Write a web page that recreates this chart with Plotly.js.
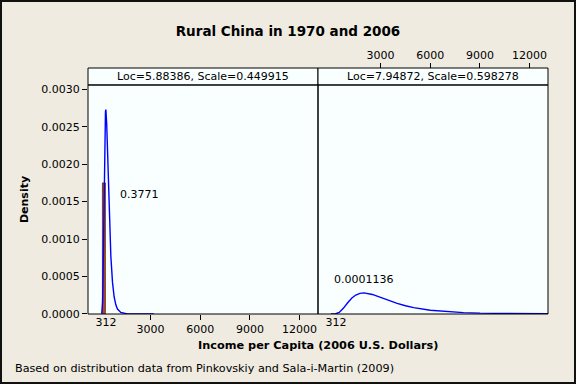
<!DOCTYPE html>
<html>
<head>
<meta charset="utf-8">
<script src="https://cdn.plot.ly/plotly-3.0.1.min.js"></script>
<style>html,body{margin:0;padding:0;background:#efebe1;}#chart{width:576px;height:384px;}</style>
</head>
<body>
<div id="chart"></div>
<script>
// ---- data ----
const panelLabels = ["Loc=5.88386, Scale=0.449915", "Loc=7.94872, Scale=0.598278"];
// 1970 lognormal density (left panel)
const x1970 = [50, 100, 125, 150, 175, 200, 225, 250, 275, 300, 325, 350, 375, 400, 450, 500, 600, 700, 800, 900, 1000, 1200, 1400, 1600, 2000, 2500, 3200];
const d1970 = [0.0000012, 0.000156, 0.000452, 0.000899, 0.001413, 0.001901, 0.002295, 0.002564, 0.002703, 0.002728, 0.002662, 0.002529, 0.002354, 0.002154, 0.001738, 0.001354, 0.000771, 0.000422, 0.000227, 0.0001226, 0.0000665, 0.0000203, 0.0000066, 0.0000022, 0.0000003, 0, 0];
// 2006 lognormal density (right panel)
const x2006 = [0, 250, 500, 750, 1000, 1250, 1500, 1750, 2000, 2250, 2500, 3000, 3500, 4000, 4500, 5000, 6000, 7000, 8000, 9000, 10000, 11000, 12000, 13000, 13500];
const d2006 = [0, 0.0000007, 0.00002, 0.0000755, 0.0001468, 0.0002096, 0.0002529, 0.0002757, 0.0002816, 0.0002753, 0.000261, 0.0002212, 0.0001789, 0.0001411, 0.0001098, 0.0000849, 0.0000506, 0.0000303, 0.0000185, 0.0000114, 0.0000072, 0.0000046, 0.000003, 0.000002, 0.0000016];
// shaded area below the 312 poverty line (1970)
const shadeX = [90, 90, 270, 270];
const shadeY = [0, 0.00175, 0.00175, 0];
const shareBelow = ["0.3771", "0.0001136"];
const povertyLine = [312];
const xTicks = [3000, 6000, 9000, 12000];
const yTicks = [0, 0.0005, 0.001, 0.0015, 0.002, 0.0025, 0.003];

const FONT = "DejaVu Sans";
const xr = [-780, 13110];
const yTop = 0.9309;
const PANEL_BG = '#f9ffff';

const traces = [
  {x: shadeX, y: shadeY, xaxis: 'x', yaxis: 'y', type: 'scatter', mode: 'lines', fill: 'toself',
   fillcolor: '#b5461c', line: {width: 0.8, color: '#5a2a10'}, hoverinfo: 'skip', showlegend: false},
  {x: x1970, y: d1970, xaxis: 'x', yaxis: 'y', type: 'scatter', mode: 'lines',
   line: {color: '#0000ff', width: 1.4}, showlegend: false},
  {x: x2006, y: d2006, xaxis: 'x2', yaxis: 'y', type: 'scatter', mode: 'lines',
   line: {color: '#0000ff', width: 1.4}, showlegend: false},
  {x: [], y: [], xaxis: 'x3', yaxis: 'y', type: 'scatter', showlegend: false},
  {x: [], y: [], xaxis: 'x4', yaxis: 'y', type: 'scatter', showlegend: false}
];

const tickFont = {family: FONT, size: 11, color: '#000'};
const baseX = {range: xr, showgrid: false, zeroline: false, fixedrange: true, tickfont: tickFont};

const layout = {
  width: 576, height: 384,
  paper_bgcolor: '#efebe1', plot_bgcolor: PANEL_BG,
  margin: {l: 88, r: 28, t: 68, b: 70},
  showlegend: false,
  title: {text: '<b>Rural China in 1970 and 2006</b>', font: {family: FONT, size: 13.5, color: '#000'},
          x: 0.5, xref: 'container', y: 1 - 31/384, yref: 'container', yanchor: 'middle'},
  xaxis: Object.assign({}, baseX, {domain: [0, 0.5], anchor: 'y', tickvals: xTicks, ticktext: xTicks.map(String),
          ticks: 'outside', ticklen: 5, tickcolor: '#000', showline: false}),
  xaxis3: Object.assign({}, baseX, {overlaying: 'x', anchor: 'y', side: 'bottom', tickvals: povertyLine,
          ticktext: povertyLine.map(String), ticks: '', showline: false}),
  xaxis2: Object.assign({}, baseX, {domain: [0.5, 1], anchor: 'free', position: 1, side: 'top', tickvals: xTicks,
          ticktext: xTicks.map(String), ticks: 'outside', ticklen: 5, tickcolor: '#000', showline: false}),
  xaxis4: Object.assign({}, baseX, {overlaying: 'x2', anchor: 'y', side: 'bottom', tickvals: povertyLine,
          ticktext: povertyLine.map(String), ticks: '', showline: false}),
  yaxis: {domain: [0, yTop], range: [0, 0.003057], tickvals: yTicks, tickformat: '.4f',
          ticks: 'outside', ticklen: 5, tickcolor: '#000', showgrid: false, zeroline: false, showline: false,
          tickfont: tickFont, fixedrange: true,
          title: {text: '<b>Density</b>', font: {family: FONT, size: 11, color: '#000'}, standoff: 10}},
  shapes: [
    // panel frames
    {type: 'rect', xref: 'paper', yref: 'paper', x0: 0, x1: 0.5, y0: 0, y1: yTop, line: {color: '#000', width: 1}},
    {type: 'rect', xref: 'paper', yref: 'paper', x0: 0.5, x1: 1, y0: 0, y1: yTop, line: {color: '#000', width: 1}},
    // header strips
    {type: 'rect', xref: 'paper', yref: 'paper', x0: 0, x1: 0.5, y0: yTop, y1: 1, fillcolor: PANEL_BG, line: {color: '#000', width: 1}, layer: 'below'},
    {type: 'rect', xref: 'paper', yref: 'paper', x0: 0.5, x1: 1, y0: yTop, y1: 1, fillcolor: PANEL_BG, line: {color: '#000', width: 1}, layer: 'below'},
    // outer figure border
    {type: 'rect', xref: 'paper', yref: 'paper', x0: -0.18913, x1: 1.0587, y0: -0.28049, y1: 1.27236, line: {color: '#111', width: 2}}
  ],
  annotations: [
    {text: panelLabels[0], xref: 'paper', yref: 'paper', x: 0.25, y: (yTop + 1) / 2, showarrow: false,
     font: {family: FONT, size: 11, color: '#000'}, xanchor: 'center', yanchor: 'middle'},
    {text: panelLabels[1], xref: 'paper', yref: 'paper', x: 0.75, y: (yTop + 1) / 2, showarrow: false,
     font: {family: FONT, size: 11, color: '#000'}, xanchor: 'center', yanchor: 'middle'},
    {text: shareBelow[0], xref: 'x', yref: 'y', x: 2300, y: 0.00159, showarrow: false,
     font: {family: FONT, size: 11, color: '#000'}},
    {text: shareBelow[1], xref: 'x2', yref: 'y', x: 2000, y: 0.00046, showarrow: false,
     font: {family: FONT, size: 11, color: '#000'}},
    {text: '<b>Income per Capita (2006 U.S. Dollars)</b>', xref: 'paper', yref: 'paper', x: 0.5, y: (314 - 345) / 246,
     showarrow: false, font: {family: FONT, size: 11.3, color: '#000'}, xanchor: 'center', yanchor: 'middle'},
    {text: 'Based on distribution data from Pinkovskiy and Sala-i-Martin (2009)', xref: 'paper', yref: 'paper',
     x: (13 - 88) / 460, y: (314 - 368) / 246, showarrow: false, xanchor: 'left', yanchor: 'middle',
     font: {family: FONT, size: 11.2, color: '#000'}}
  ]
};

Plotly.newPlot('chart', traces, layout, {staticPlot: true, displayModeBar: false});
</script>
</body>
</html>
